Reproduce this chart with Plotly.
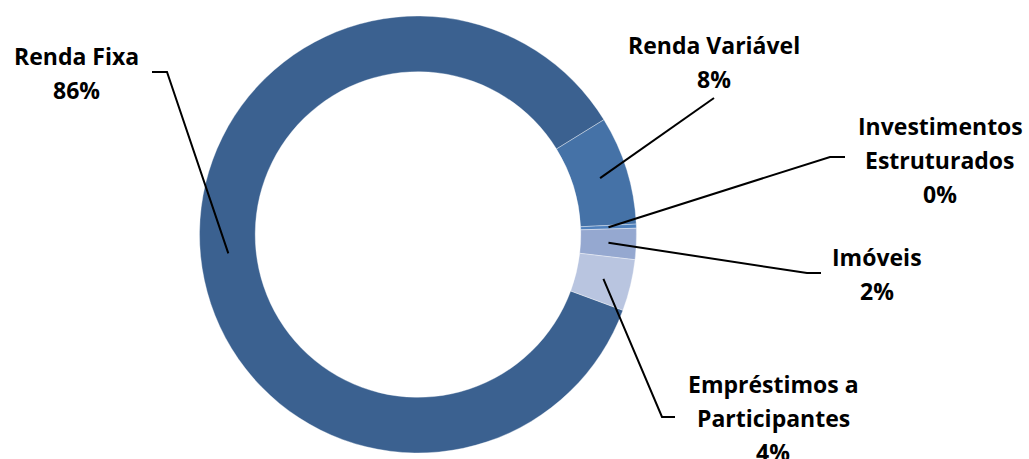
import math
import plotly.graph_objects as go

# ---- data ----
categories = ["Renda Fixa", "Renda Variável", "Investimentos Estruturados", "Imóveis", "Empréstimos a Participantes"]
values = [85.6, 8.05, 0.3, 2.3, 3.8]
label_lines = [["Renda Fixa"], ["Renda Variável"], ["Investimentos", "Estruturados"], ["Imóveis"], ["Empréstimos a", "Participantes"]]
colors = ["#3B6190", "#4572A7", "#4F81BD", "#95A8D0", "#B9C5E0"]

W, H = 1029, 459
CX, CY, R = 418.0, 234.5, 218.5
HOLE = 0.745
ROT = 110.3

# label placement (pixels): center x, first line y ; leader elbow points
label_pos = [(76, 56), (714, 45), (940, 126), (877, 257), (773, 384)]
elbows = [[(167, 72), (152, 72)], [(714, 98)], [(830, 157), (845, 157)], [(807, 273), (821, 273)], [(662, 417), (675, 417)]]
LINE_GAP = 34

fig = go.Figure(go.Pie(
    labels=categories, values=values, hole=HOLE, sort=False, direction="clockwise",
    rotation=ROT, textinfo="none", hoverinfo="label+percent",
    marker=dict(colors=colors, line=dict(color="rgba(255,255,255,0.6)", width=0.6)),
    domain=dict(x=[(CX - R) / W, (CX + R) / W], y=[(H - CY - R) / H, (H - CY + R) / H]),
    showlegend=False,
))

def px(x, y):
    return x / W, 1 - y / H

total = sum(values)
ang = ROT
rmid = R * (1 + HOLE) / 2
annotations = []
shapes = []
for i, v in enumerate(values):
    mid = ang + v / total * 360 / 2
    ang += v / total * 360
    a = math.radians(mid)
    sx, sy = CX + rmid * math.sin(a), CY - rmid * math.cos(a)
    pts = [(sx, sy)] + elbows[i]
    path = "M " + " L ".join(f"{px(x, y)[0]},{px(x, y)[1]}" for x, y in pts)
    shapes.append(dict(type="path", xref="paper", yref="paper", path=path,
                       line=dict(color="black", width=2)))
    pct = f"{round(v / total * 100)}%"
    lines = label_lines[i] + [pct]
    lx, ly = label_pos[i]
    for j, t in enumerate(lines):
        x, y = px(lx, ly + j * LINE_GAP)
        annotations.append(dict(x=x, y=y, xref="paper", yref="paper", text=f"<b>{t}</b>",
                                showarrow=False, xanchor="center", yanchor="middle",
                                font=dict(family="Open Sans", size=23, color="black")))

fig.update_layout(width=W, height=H, margin=dict(l=0, r=0, t=0, b=0),
                  paper_bgcolor="white", plot_bgcolor="white",
                  annotations=annotations, shapes=shapes)
fig.write_html("out.html", config={"displayModeBar": False},
               post_script="document.body.style.margin='0';document.body.style.overflow='hidden';")
